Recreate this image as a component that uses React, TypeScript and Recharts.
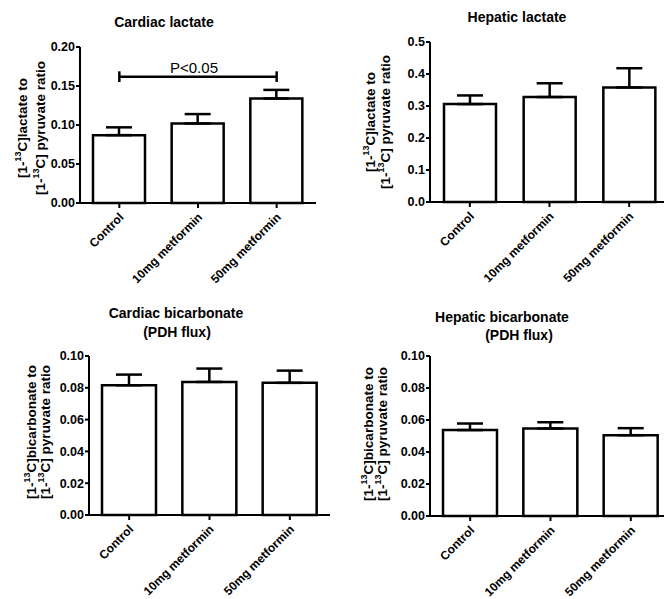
import React from 'react';
import { BarChart, Bar, XAxis, YAxis, ErrorBar, ReferenceLine, Label } from 'recharts';

const FONT = '"Liberation Sans", Arial, Helvetica, sans-serif';

const categories = ['Control', '10mg metformin', '50mg metformin'];

const cardiacLactate = [0.087, 0.102, 0.134];
const cardiacLactateErr = [0.010, 0.012, 0.011];
const hepaticLactate = [0.306, 0.328, 0.358];
const hepaticLactateErr = [0.027, 0.043, 0.06];
const cardiacBicarb = [0.0816, 0.0837, 0.0831];
const cardiacBicarbErr = [0.0067, 0.0084, 0.0077];
const hepaticBicarb = [0.0537, 0.0547, 0.0505];
const hepaticBicarbErr = [0.0041, 0.0039, 0.0044];

const cardiacLactateTicks = [0, 0.05, 0.1, 0.15, 0.2];
const hepaticLactateTicks = [0, 0.1, 0.2, 0.3, 0.4, 0.5];
const bicarbTicks = [0, 0.02, 0.04, 0.06, 0.08, 0.1];

const sigY = 0.162;
const sigCap = 0.0068;
const sigText = 'P<0.05';

const build = (vals: number[], errs: number[]) =>
  categories.map((c, i) => ({ name: c, value: vals[i], err: [0, errs[i]] }));

const XTick = (props: any) => {
  const { x, y, payload } = props;
  const ax = x + 5;
  const ay = y + 8;
  return (
    <g>
      <text
        x={ax}
        y={ay}
        transform={`rotate(-45 ${ax} ${ay})`}
        textAnchor="end"
        fontSize={12}
        fontWeight="bold"
        fontFamily={FONT}
        fill="#000"
      >
        {payload.value}
      </text>
    </g>
  );
};

type PanelProps = {
  left: number;
  top: number;
  width: number;
  height: number;
  plotLeft: number;
  plotTop: number;
  plotBottom: number;
  data: any[];
  domain: [number, number];
  ticks: number[];
  digits: number;
  barSize: number;
  children?: React.ReactNode;
};

const Panel = ({ left, top, width, height, plotLeft, plotTop, plotBottom, data, domain, ticks, digits, barSize, children }: PanelProps) => (
  <div style={{ position: 'absolute', left, top, width, height }}>
    <BarChart
      width={width}
      height={height}
      data={data}
      margin={{ top: plotTop, right: 0, bottom: 0, left: plotLeft - 40 }}
      barCategoryGap={0}
    >
      <XAxis
        dataKey="name"
        type="category"
        height={height - plotBottom}
        interval={0}
        tickSize={5}
        tickMargin={2}
        axisLine={{ stroke: '#000', strokeWidth: 2 }}
        tickLine={{ stroke: '#000', strokeWidth: 2 }}
        tick={<XTick />}
      />
      <YAxis
        width={40}
        domain={domain}
        ticks={ticks}
        interval={0}
        tickFormatter={(v: number) => v.toFixed(digits)}
        tickSize={4}
        tickMargin={1}
        axisLine={{ stroke: '#000', strokeWidth: 2 }}
        tickLine={{ stroke: '#000', strokeWidth: 2 }}
        tick={{ fontSize: 12.5, fontWeight: 'bold', fill: '#000', fontFamily: FONT }}
      />
      <Bar dataKey="value" fill="#fff" stroke="#000" strokeWidth={2.5} barSize={barSize} isAnimationActive={false}>
        <ErrorBar dataKey="err" direction="y" width={13} stroke="#000" strokeWidth={2.5} isAnimationActive={false} />
      </Bar>
      {children}
    </BarChart>
  </div>
);

const YLab = ({ x, cy, pre }: { x: number; cy: number; pre: string }) => (
  <text
    transform={`translate(${x},${cy}) rotate(-90)`}
    textAnchor="middle"
    fontSize={13.5}
    fontWeight="bold"
    fontFamily={FONT}
    fill="#000"
  >
    <tspan>[1-</tspan>
    <tspan fontSize={9} dy={-6}>13</tspan>
    <tspan dy={6}>{pre}</tspan>
  </text>
);

const Title = ({ x, y, text }: { x: number; y: number; text: string }) => (
  <text x={x} y={y} textAnchor="middle" fontSize={14} fontWeight="bold" fontFamily={FONT} fill="#000">
    {text}
  </text>
);

export default function App() {
  const sigStyle = { stroke: '#000', strokeWidth: 2.5 };
  return (
    <div
      style={{
        position: 'absolute',
        left: 0,
        top: 0,
        width: 664,
        height: 599,
        overflow: 'hidden',
        background: '#fff',
        fontFamily: FONT,
      }}
    >
      <style>{`.recharts-surface{overflow:visible}`}</style>
      <Panel
        left={0}
        top={0}
        width={316}
        height={298}
        plotLeft={80}
        plotTop={47}
        plotBottom={203}
        data={build(cardiacLactate, cardiacLactateErr)}
        domain={[0, 0.2]}
        ticks={cardiacLactateTicks}
        digits={2}
        barSize={52}
      >
        <ReferenceLine
          segment={[{ x: categories[0], y: sigY }, { x: categories[2], y: sigY }]}
          {...sigStyle}
          ifOverflow="visible"
        >
          <Label value={sigText} position="top" offset={4} dx={-4} fill="#000" fontSize={15} fontFamily={FONT} />
        </ReferenceLine>
        <ReferenceLine
          segment={[{ x: categories[0], y: sigY - sigCap }, { x: categories[0], y: sigY + sigCap }]}
          {...sigStyle}
          ifOverflow="visible"
        />
        <ReferenceLine
          segment={[{ x: categories[2], y: sigY - sigCap }, { x: categories[2], y: sigY + sigCap }]}
          {...sigStyle}
          ifOverflow="visible"
        />
      </Panel>
      <Panel
        left={332}
        top={0}
        width={337}
        height={298}
        plotLeft={98}
        plotTop={42}
        plotBottom={202}
        data={build(hepaticLactate, hepaticLactateErr)}
        domain={[0, 0.5]}
        ticks={hepaticLactateTicks}
        digits={1}
        barSize={52}
      />
      <Panel
        left={0}
        top={300}
        width={330}
        height={299}
        plotLeft={89}
        plotTop={56}
        plotBottom={215}
        data={build(cardiacBicarb, cardiacBicarbErr)}
        domain={[0, 0.1]}
        ticks={bicarbTicks}
        digits={2}
        barSize={54}
      />
      <Panel
        left={332}
        top={300}
        width={339}
        height={299}
        plotLeft={98}
        plotTop={56}
        plotBottom={216}
        data={build(hepaticBicarb, hepaticBicarbErr)}
        domain={[0, 0.1]}
        ticks={bicarbTicks}
        digits={2}
        barSize={54}
      />
      <svg
        width={664}
        height={599}
        style={{ position: 'absolute', left: 0, top: 0, pointerEvents: 'none' }}
      >
        <Title x={164} y={27} text="Cardiac lactate" />
        <Title x={517} y={22} text="Hepatic lactate" />
        <Title x={176} y={318} text="Cardiac bicarbonate" />
        <Title x={177} y={337} text="(PDH flux)" />
        <Title x={502} y={322} text="Hepatic bicarbonate" />
        <Title x={519} y={340} text="(PDH flux)" />

        <YLab x={27} cy={128} pre="C]lactate to" />
        <YLab x={45} cy={128} pre="C] pyruvate ratio" />
        <YLab x={375} cy={122} pre="C]lactate to" />
        <YLab x={390} cy={122} pre="C] pyruvate ratio" />
        <YLab x={36} cy={432} pre="C]bicarbonate to" />
        <YLab x={50} cy={432} pre="C] pyruvate ratio" />
        <YLab x={373} cy={434} pre="C]bicarbonate to" />
        <YLab x={387} cy={434} pre="C] pyruvate ratio" />
      </svg>
    </div>
  );
}
